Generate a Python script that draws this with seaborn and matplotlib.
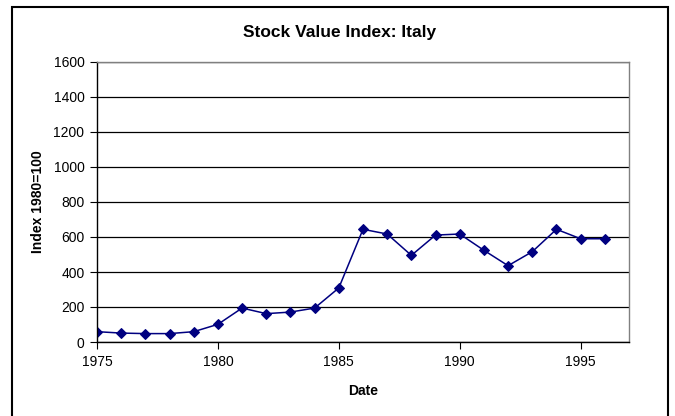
import matplotlib
matplotlib.use("Agg")
import matplotlib.pyplot as plt
import seaborn as sns
import pandas as pd
from matplotlib.patches import Rectangle

years = [1975, 1976, 1977, 1978, 1979, 1980, 1981, 1982, 1983, 1984, 1985,
         1986, 1987, 1988, 1989, 1990, 1991, 1992, 1993, 1994, 1995, 1996]
index_values = [59, 51, 48, 48, 59, 101, 194, 162, 171, 194, 309,
                644, 617, 495, 611, 617, 524, 436, 516, 644, 590, 590]
x_ticks = [1975, 1980, 1985, 1990, 1995]
y_ticks = [0, 200, 400, 600, 800, 1000, 1200, 1400, 1600]

title = "Stock Value Index: Italy"
x_label = "Date"
y_label = "Index 1980=100"

df = pd.DataFrame({"Date": years, "Index": index_values})

sns.set_theme(style="white")
plt.rcParams['font.family'] = ['Liberation Sans', 'DejaVu Sans']
plt.rcParams['text.color'] = 'black'
plt.rcParams['axes.labelcolor'] = 'black'
plt.rcParams['xtick.color'] = 'black'
plt.rcParams['ytick.color'] = 'black'

fig = plt.figure(figsize=(6.75, 4.16), dpi=100)
ax = fig.add_axes([97/675, (416-342)/416, (629-97)/675, (342-62)/416])

sns.lineplot(data=df, x="Date", y="Index", ax=ax, color="#000080",
             marker="D", markersize=5, linewidth=1.1,
             markeredgecolor="#000080")

ax.set_xlim(1975, 1997)
ax.set_ylim(0, 1600)
ax.set_xticks(x_ticks)
ax.set_yticks(y_ticks)
ax.set_xticklabels([str(t) for t in x_ticks], fontsize=10)
ax.set_yticklabels([str(t) for t in y_ticks], fontsize=10)
ax.yaxis.grid(True, color="black", linewidth=0.9)
ax.xaxis.grid(False)
ax.set_axisbelow(True)
ax.tick_params(axis="both", which="major", direction="out", length=5,
               width=0.8, color="black", labelcolor="black",
               bottom=True, left=True, pad=4)

for side in ["left", "bottom"]:
    ax.spines[side].set_color("black")
    ax.spines[side].set_linewidth(1.0)
for side in ["right", "top"]:
    ax.spines[side].set_color("#808080")
    ax.spines[side].set_linewidth(1.0)

ax.set_xlabel(x_label, fontsize=10, fontweight="bold", labelpad=11, color="black")
ax.set_ylabel(y_label, fontsize=10, fontweight="bold", labelpad=6, color="black")
fig.text(0.5 * (12 + 668) / 675, (416 - 33) / 416, title, ha="center", va="center",
         fontsize=12.5, fontweight="bold", color="black")

fig.patches.append(Rectangle((12/675, -0.01), (668-12)/675, (416-7)/416 + 0.01,
                             transform=fig.transFigure, fill=False,
                             edgecolor="black", linewidth=1.5))

fig.savefig("out.png", dpi=100)
